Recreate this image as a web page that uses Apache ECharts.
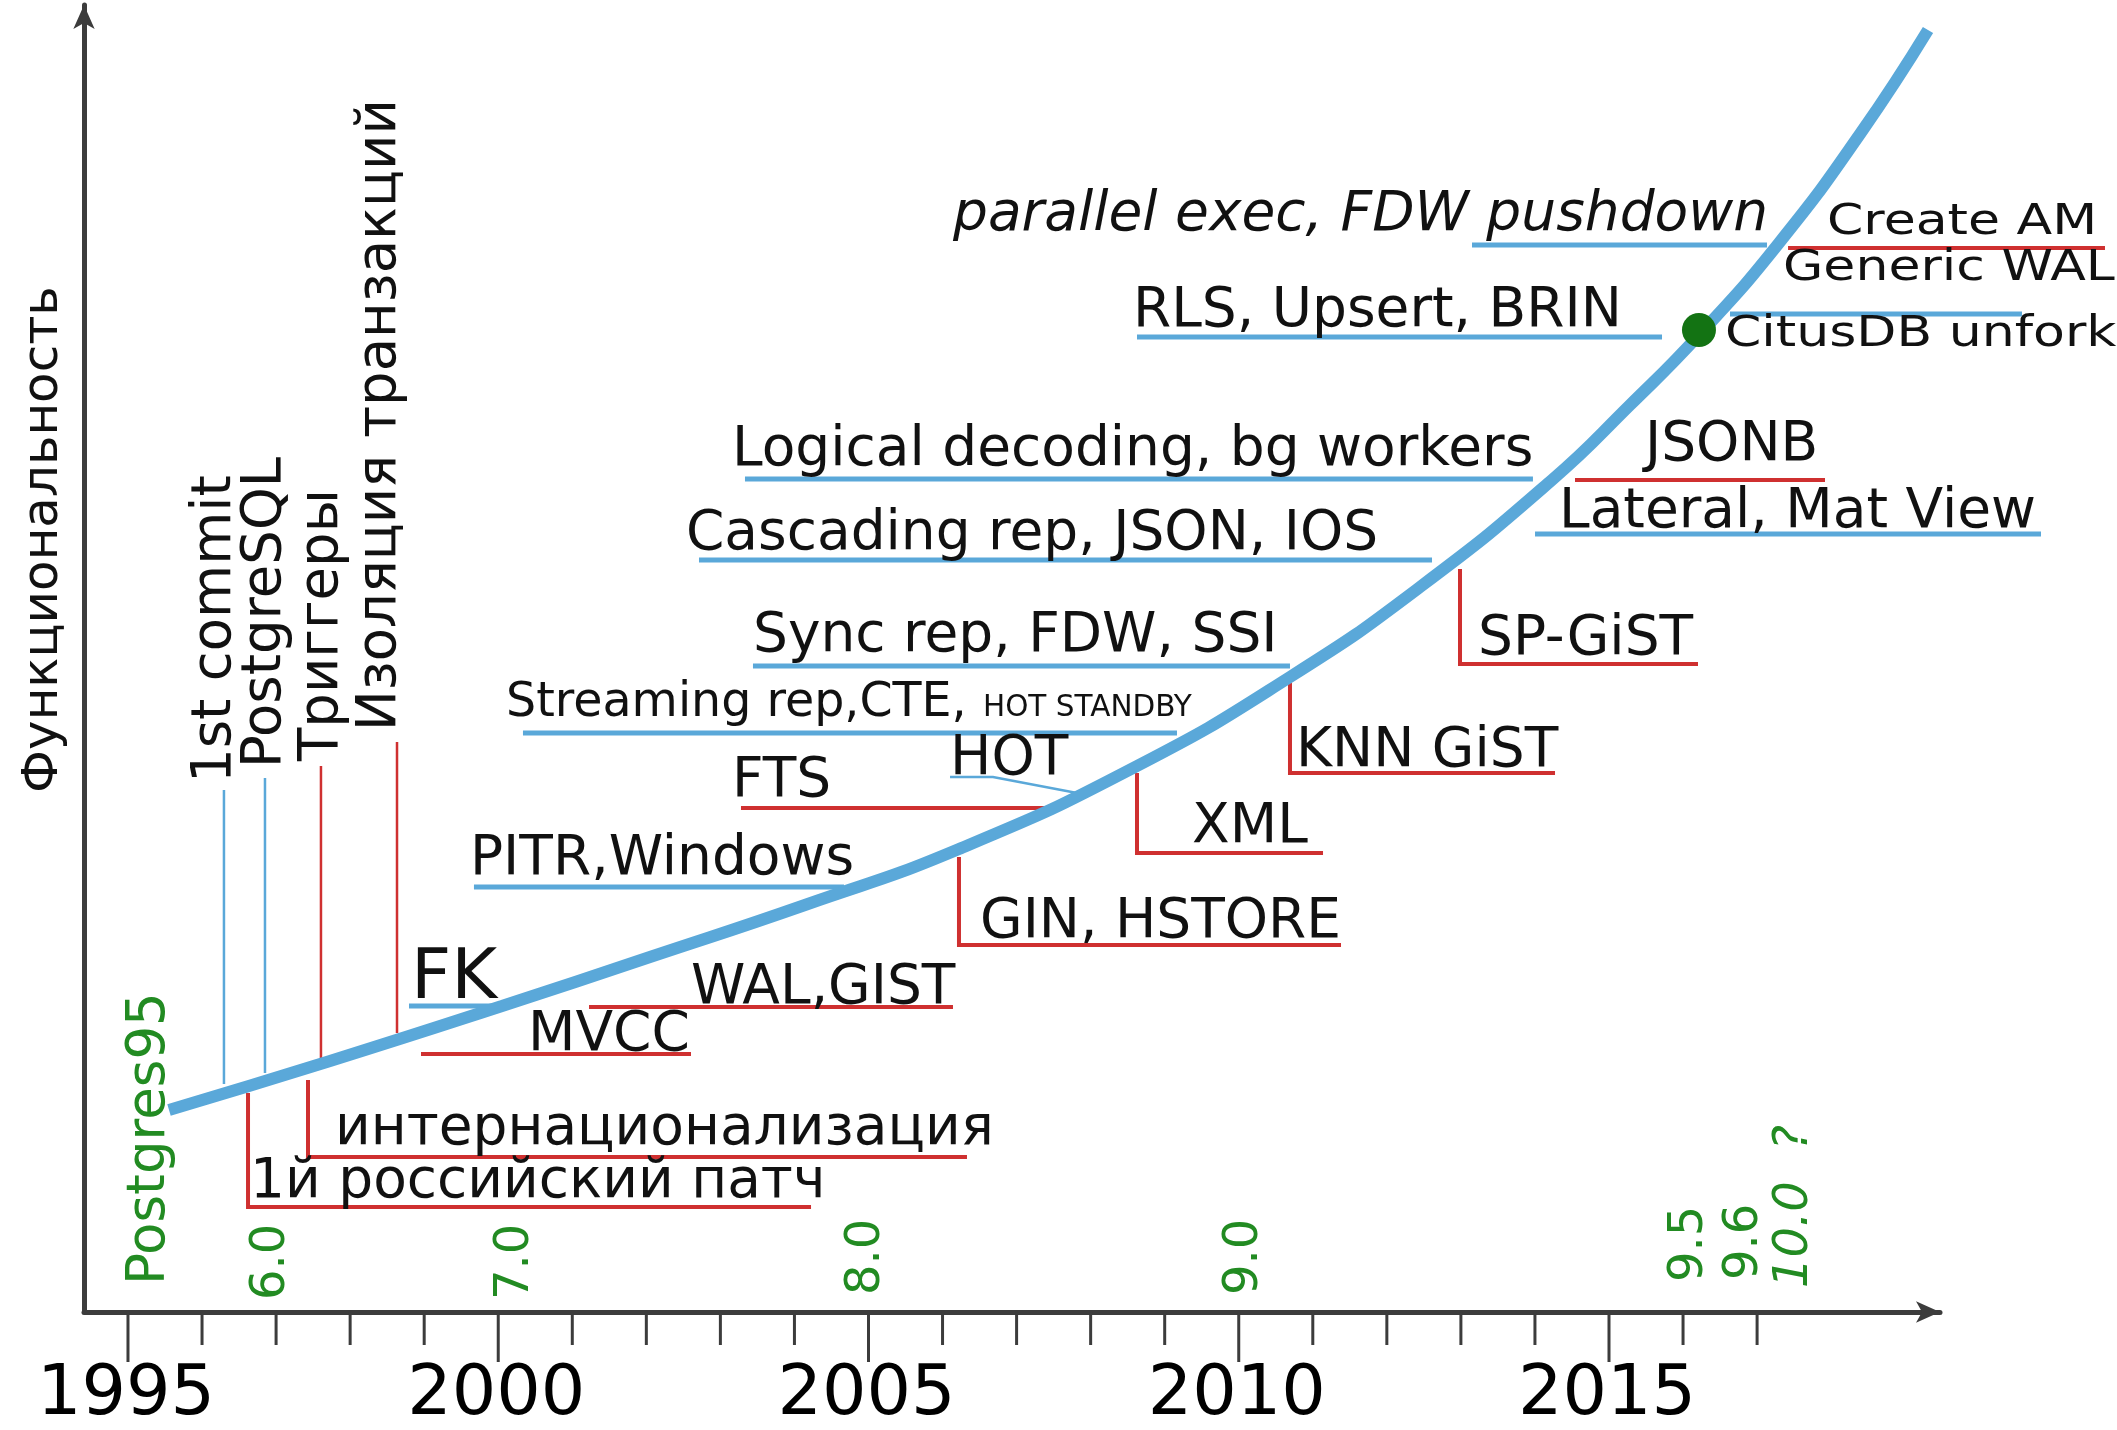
<!DOCTYPE html>
<html>
<head>
<meta charset="utf-8">
<title>PostgreSQL: функциональность по годам</title>
<script src="https://cdn.jsdelivr.net/npm/echarts@6/dist/echarts.min.js"></script>
<style>
    html, body { margin: 0; padding: 0; background: #fff; }
    #chart { width: 2117px; height: 1430px; }
</style>
</head>
<body>
<div id="chart"></div>
<script>
    // the growth curve: year -> functionality level
    const curveYears = [1995.554, 1997.728, 2000.051, 2002.049, 2004.142, 2006.222, 2008.626,
        2010.692, 2012.448, 2014.230, 2015.284, 2016.215, 2017.296, 2018.390, 2019.308];
    const curveLevel = [202, 251, 306, 355, 407, 463, 546,
        635, 725, 832, 907, 977, 1069, 1178, 1282];

    // green dot on the curve (CitusDB unfork)
    const citusPoint = [2016.215, 982];

    // x axis ticks
    const tickYears = [1995, 1996, 1997, 1998, 1999, 2000, 2001, 2002, 2003, 2004, 2005, 2006,
        2007, 2008, 2009, 2010, 2011, 2012, 2013, 2014, 2015, 2016, 2017];
    const yearLabels = [1995, 2000, 2005, 2010, 2015];

    // horizontal notes: text, year where text starts, baseline level, kind
    const hLabels = [
        ['1й российский патч', 1996.648, 114, 'main'],
        ['интернационализация', 1997.795, 167, 'main'],
        ['FK', 1998.822, 313, 'big'],
        ['MVCC', 2000.402, 261, 'main'],
        ['WAL,GIST', 2002.603, 308, 'main'],
        ['PITR,Windows', 1999.618, 437, 'main'],
        ['FTS', 2003.157, 515, 'main'],
        ['HOT', 2006.101, 537, 'main'],
        ['GIN, HSTORE', 2006.506, 374, 'main'],
        ['XML', 2009.369, 469, 'main'],
        ['Streaming rep,CTE,', 2000.105, 595, 'mid'],
        ['HOT STANDBY', 2006.546, 595, 'tiny'],
        ['KNN GiST', 2010.773, 545, 'main'],
        ['Sync rep, FDW, SSI', 2003.440, 660, 'main'],
        ['SP-GiST', 2013.231, 657, 'main'],
        ['Cascading rep, JSON, IOS', 2002.535, 762, 'main'],
        ['Lateral, Mat View', 2014.325, 784, 'main'],
        ['Logical decoding, bg workers', 2003.157, 846, 'main'],
        ['JSONB', 2015.486, 851, 'main'],
        ['RLS, Upsert, BRIN', 2008.572, 985, 'main'],
        ['CitusDB unfork', 2016.566, 965, 'wide'],
        ['Generic WAL', 2017.350, 1031, 'wide'],
        ['Create AM', 2017.944, 1077, 'wide'],
        ['parallel exec, FDW pushdown', 2006.141, 1081, 'italic']
    ];

    // vertical notes: text, year of text centre, level where text starts, kind
    const vLabels = [
        ['Функциональность', 1993.866, 519, 'axis'],
        ['1st commit', 1996.188, 529, 'note'],
        ['PostgreSQL', 1996.864, 544, 'note'],
        ['Триггеры', 1997.633, 551, 'note'],
        ['Изоляция транзакций', 1998.417, 581, 'note'],
        ['Postgres95', 1995.297, 27, 'pg'],
        ['6.0', 1996.945, 12, 'ver'],
        ['7.0', 2000.240, 12, 'ver'],
        ['8.0', 2004.980, 17, 'ver'],
        ['9.0', 2010.084, 17, 'ver'],
        ['9.5', 2016.094, 30, 'ver'],
        ['9.6', 2016.836, 32, 'ver'],
        ['10.0  ?', 2017.512, 24, 'verItalic']
    ];

    // leader lines, [year, level] points
    const blueUnderlines = [
        [[1998.795, 306], [2000.024, 306]],
        [[1999.672, 425], [2004.669, 425]],
        [[2000.334, 579], [2009.166, 579]],
        [[2003.440, 646], [2010.692, 646]],
        [[2002.711, 752], [2012.610, 752]],
        [[2003.332, 833], [2013.973, 833]],
        [[2014.001, 778], [2020.834, 778]],
        [[2008.626, 975], [2015.716, 975]],
        [[2016.634, 998], [2020.577, 998]],
        [[2013.150, 1067], [2017.134, 1067]]
    ];
    const blueStems = [
        [[1996.296, 522], [1996.296, 228]],
        [[1996.850, 534], [1996.850, 239]],
        [[2006.101, 535], [2006.681, 535], [2007.816, 519]]
    ];
    const redLeaders = [
        [[1996.621, 219], [1996.621, 105], [2004.224, 105]],
        [[1997.431, 232], [1997.431, 155], [2006.330, 155]],
        [[1998.957, 258], [2002.603, 258]],
        [[2001.226, 305], [2006.141, 305]],
        [[2003.278, 504], [2007.411, 504]],
        [[2006.222, 455], [2006.222, 367], [2011.381, 367]],
        [[2008.626, 539], [2008.626, 459], [2011.138, 459]],
        [[2010.692, 629], [2010.692, 539], [2014.271, 539]],
        [[2012.988, 743], [2012.988, 648], [2016.202, 648]],
        [[2014.541, 832], [2017.917, 832]],
        [[2017.418, 1064], [2021.698, 1064]]
    ];
    const redStems = [
        [[1997.606, 546], [1997.606, 246]],
        [[1998.633, 570], [1998.633, 279]]
    ];

    const FONT = '"DejaVu Sans", sans-serif';
    const MID = 0.28; // canvas 'middle' sits a bit above the baseline
    const BLUE = '#5aa8d9';
    const RED = '#cf3030';
    const GREEN = '#228b22';
    const AXIS = '#3c3c3c';

    const hStyles = {
        main: { size: 55 },
        big: { size: 70 },
        mid: { size: 47.5 },
        tiny: { size: 29.5 },
        italic: { size: 55, italic: true },
        wide: { size: 42, sx: 1.24 }
    };
    const vStyles = {
        axis: { size: 50, color: '#111' },
        note: { size: 54.5, color: '#111' },
        pg: { size: 53, color: GREEN },
        ver: { size: 48, color: GREEN },
        verItalic: { size: 48, color: GREEN, italic: true }
    };

    function fontOf(st) {
        return (st.italic ? 'italic ' : '') + st.size + 'px ' + FONT;
    }

    function renderTick(params, api) {
        const year = api.value(0);
        const p = api.coord([year, 0]);
        const major = yearLabels.indexOf(year) >= 0;
        const children = [{
            type: 'line',
            shape: { x1: p[0], y1: p[1], x2: p[0], y2: p[1] + (major ? 50 : 33) },
            style: { stroke: AXIS, lineWidth: 3 }
        }];
        if (major) {
            children.push({
                type: 'text', x: p[0] - 2, y: p[1] + 103 - 70 * MID,
                style: { text: String(year), x: 0, y: 0, font: '70px ' + FONT, fill: '#000',
                    align: 'center', verticalAlign: 'middle' }
            });
        }
        return { type: 'group', children: children };
    }

    function renderHLabel(params, api) {
        const row = hLabels[params.dataIndex];
        const st = hStyles[row[3]];
        const p = api.coord([api.value(0), api.value(1)]);
        return {
            type: 'text', x: p[0], y: p[1] - st.size * MID, scaleX: st.sx || 1, silent: true,
            style: { text: row[0], x: 0, y: 0, font: fontOf(st), fill: '#111',
                align: 'left', verticalAlign: 'middle' }
        };
    }

    function renderVLabel(params, api) {
        const row = vLabels[params.dataIndex];
        const st = vStyles[row[3]];
        const p = api.coord([api.value(0), api.value(1)]);
        return {
            type: 'text', x: p[0], y: p[1], rotation: Math.PI / 2, silent: true,
            style: { text: row[0], x: 0, y: 0, font: fontOf(st), fill: st.color,
                align: 'left', verticalAlign: 'middle' }
        };
    }

    function leaders(paths, color, width) {
        return {
            type: 'lines',
            coordinateSystem: 'cartesian2d',
            polyline: true,
            clip: false,
            silent: true,
            z: 2,
            lineStyle: { color: color, width: width, opacity: 1, curveness: 0 },
            data: paths.map(function (c) { return { coords: c }; })
        };
    }

    const myChart = echarts.init(document.getElementById('chart'), null, { renderer: 'canvas' });

    const option = {
        animation: false,
        backgroundColor: '#fff',
        grid: { left: 84, right: 177, top: 5, bottom: 118 },
        xAxis: {
            type: 'value',
            min: 1994.406,
            max: 2019.470,
            axisLine: {
                show: true, onZero: false,
                symbol: ['none', 'arrow'], symbolSize: [16, 24],
                lineStyle: { color: AXIS, width: 5 }
            },
            axisTick: { show: false },
            axisLabel: { show: false },
            splitLine: { show: false }
        },
        yAxis: {
            type: 'value',
            min: 0,
            max: 1307,
            axisLine: {
                show: true,
                symbol: ['none', 'arrow'], symbolSize: [16, 24],
                lineStyle: { color: AXIS, width: 5 }
            },
            axisTick: { show: false },
            axisLabel: { show: false },
            splitLine: { show: false }
        },
        series: [
            leaders(blueUnderlines, BLUE, 5),
            leaders(blueStems, BLUE, 2.5),
            leaders(redLeaders, RED, 4),
            leaders(redStems, RED, 2.5),
            {
                name: 'Функциональность',
                type: 'line',
                smooth: 0.5,
                showSymbol: false,
                silent: true,
                z: 3,
                lineStyle: { color: BLUE, width: 12, cap: 'butt' },
                data: curveYears.map(function (y, i) { return [y, curveLevel[i]]; })
            },
            {
                type: 'scatter',
                silent: true,
                z: 4,
                symbolSize: 34,
                itemStyle: { color: '#137313', opacity: 1 },
                data: [citusPoint]
            },
            {
                type: 'custom',
                silent: true,
                z: 5,
                renderItem: renderTick,
                data: tickYears.map(function (y) { return [y, 0]; })
            },
            {
                type: 'custom',
                silent: true,
                z: 6,
                renderItem: renderHLabel,
                data: hLabels.map(function (r) { return [r[1], r[2]]; })
            },
            {
                type: 'custom',
                silent: true,
                z: 6,
                renderItem: renderVLabel,
                data: vLabels.map(function (r) { return [r[1], r[2]]; })
            }
        ]
    };
    myChart.setOption(option);
</script>
</body>
</html>
